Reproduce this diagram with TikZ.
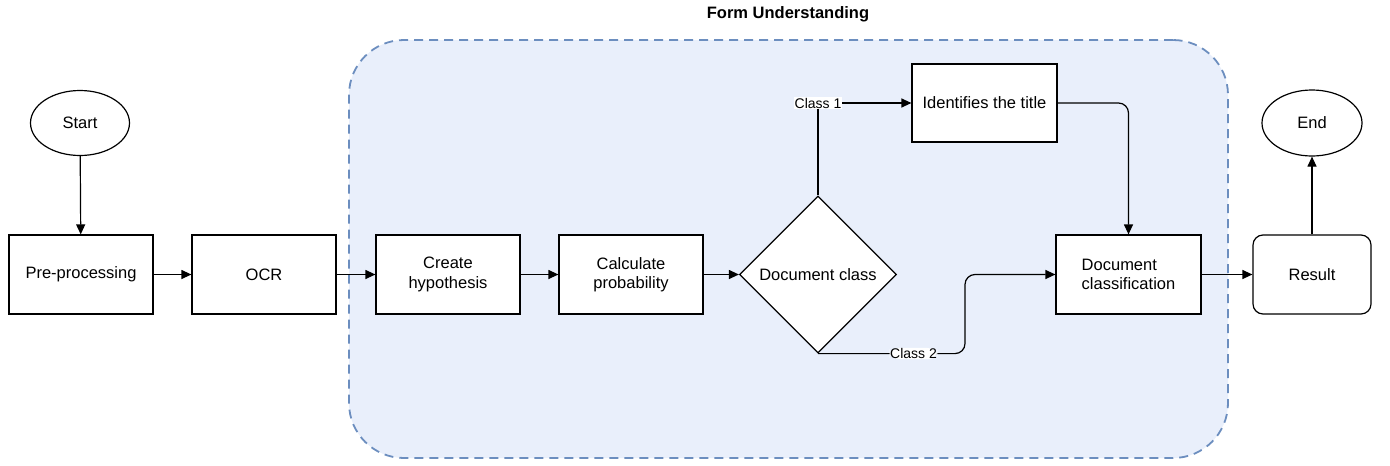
\documentclass[tikz,border=0pt]{standalone}
\usepackage{fontspec}
\setmainfont{Liberation Sans}
\usetikzlibrary{shapes.geometric,arrows.meta}
\definecolor{fuFill}{RGB}{233,239,251}
\definecolor{fuDash}{RGB}{108,142,191}
\tikzset{
  base/.style={draw=black, line width=1.2pt, fill=white, font=\fontsize{16.5}{19.5}\selectfont, align=center, inner sep=2pt},
  procbox/.style={base, rectangle, minimum width=144pt, minimum height=79pt},
  term/.style={base, ellipse, minimum width=99pt, minimum height=65pt},
  decide/.style={base, diamond, minimum width=157pt, minimum height=157pt, inner sep=0pt},
  arr/.style={draw=black, line width=1.2pt, -{Triangle[length=10pt,width=9pt]}},
  lbl/.style={fill=white, inner sep=0.5pt, font=\fontsize{14}{16}\selectfont},
  group/.style={draw=fuDash, fill=fuFill, line width=1.8pt, dash pattern=on 9pt off 6pt, rounded corners=55pt, minimum width=879pt, minimum height=418pt}
}
\begin{document}
\begin{tikzpicture}[x=1pt,y=-1pt]
\useasboundingbox (0,0) rectangle (1390,466);
% container
\node[group] (fu) at (788.5,249) {};
\node[font=\bfseries\fontsize{16.5}{19}\selectfont] (title) at (788,14) {Form Understanding};
% nodes
\node[term] (start) at (80,123) {Start};
\node[procbox] (pre) at (81,274.5) {Pre-processing};
\node[procbox] (ocr) at (264,274.5) {OCR};
\node[procbox] (hyp) at (448,274.5) {Create\\hypothesis};
\node[procbox] (prob) at (631,274.5) {Calculate\\probability};
\node[decide] (dc) at (818,274.5) {Document class};
\node[procbox, minimum width=145pt, minimum height=78pt] (idt) at (984.5,103) {Identifies the title};
\node[procbox, minimum width=145pt, align=left] (cls) at (1128.5,274.5) {Document\\classification};
\node[procbox, rounded corners=10pt, minimum width=118pt] (res) at (1312,274.5) {Result};
\node[term, minimum width=100pt, minimum height=66pt] (end) at (1312,123) {End};
% connectors
\draw[arr] (start) -- (pre);
\draw[arr] (pre) -- (ocr);
\draw[arr] (ocr) -- (hyp);
\draw[arr] (hyp) -- (prob);
\draw[arr] (prob) -- (dc);
\draw[arr] (dc.north) |- node[pos=0.5, lbl] {Class 1} (idt.west);
\draw[arr, rounded corners=10pt] (dc.south) -- node[pos=0.65, lbl] {Class 2} ++(147,0) |- (cls.west);
\draw[arr, rounded corners=10pt] (idt.east) -| (cls.north);
\draw[arr] (cls) -- (res);
\draw[arr] (res) -- (end);
\end{tikzpicture}
\end{document}
